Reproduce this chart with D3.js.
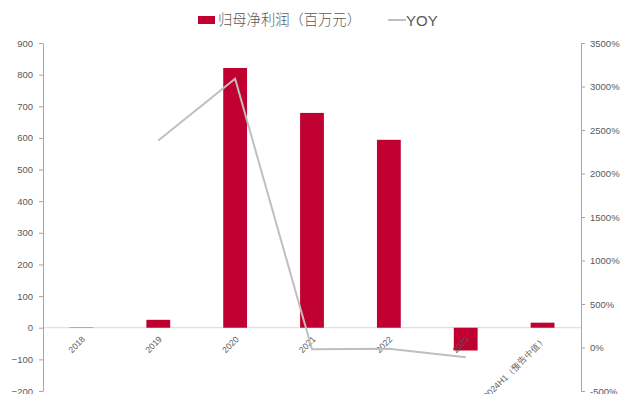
<!DOCTYPE html>
<html><head><meta charset="utf-8">
<script src="https://cdn.jsdelivr.net/npm/d3@7"></script>
<style>body{margin:0;background:#fff}svg{display:block}</style>
</head><body>
<svg id="c" width="621" height="394"></svg>
<script>
const categories = ["2018","2019","2020","2021","2022","2023","2024H1（预告中值）"];
const profit = [1, 25, 821, 679, 594, -72, 16];
const yoy = [null, 2380, 3090, -20, -15, -112, null];
const leftTicks = [-200,-100,0,100,200,300,400,500,600,700,800,900];
const rightTicks = [-500,0,500,1000,1500,2000,2500,3000,3500];

const svg = d3.select("#c");
const L = 43, R = 581, T = 43, B = 391;
const x = d3.scaleBand().domain(categories).range([L, R]).paddingInner(0.69).paddingOuter(0.345);
const y = d3.scaleLinear().domain([-200, 900]).range([B, T]);
const y2 = d3.scaleLinear().domain([-500, 3500]).range([B, T]);
const font = "Liberation Sans, Arial, sans-serif";
const grey = "#595959";

// zero line
svg.append("line").attr("x1", L).attr("x2", R).attr("y1", y(0)).attr("y2", y(0))
  .attr("stroke", "#d9d9d9").attr("stroke-width", 1);

// bars
svg.selectAll("rect.bar").data(profit).join("rect").attr("class","bar")
  .attr("x", (d,i) => x(categories[i]))
  .attr("width", x.bandwidth())
  .attr("y", d => y(Math.max(0,d)))
  .attr("height", d => Math.abs(y(d) - y(0)))
  .attr("fill", "#c00030");

// left axis
const la = svg.append("g").attr("transform", `translate(${L},0)`)
  .call(d3.axisLeft(y).tickValues(leftTicks).tickSize(4).tickSizeOuter(0).tickPadding(6));
// right axis
const ra = svg.append("g").attr("transform", `translate(${R},0)`)
  .call(d3.axisRight(y2).tickValues(rightTicks).tickSize(4).tickSizeOuter(0).tickPadding(5).tickFormat(d => d + "%"));
[la, ra].forEach(g => {
  g.select(".domain").attr("stroke", "#a6a6a6");
  g.selectAll(".tick line").attr("stroke", "#a6a6a6");
  g.selectAll(".tick text").attr("fill", grey).style("font-family", font).style("font-size", "9.5px");
});

// x labels
svg.selectAll("text.xl").data(categories).join("text").attr("class","xl")
  .attr("transform", d => `translate(${x(d) + x.bandwidth()/2 + 2},${y(0) + 10}) rotate(-45)`)
  .attr("text-anchor", "end").attr("dy", "0.35em")
  .attr("fill", grey).style("font-family", font).style("font-size", "8.6px")
  .text(d => d);

// yoy line
const line = d3.line().defined(d => d.v !== null)
  .x(d => x(d.c) + x.bandwidth()/2).y(d => y2(d.v));
svg.append("path").datum(categories.map((c,i) => ({c, v: yoy[i]})))
  .attr("d", line).attr("fill", "none").attr("stroke", "#bfbfbf").attr("stroke-width", 2);

// legend
const lg = svg.append("g");
lg.append("rect").attr("x", 198).attr("y", 16).attr("width", 17).attr("height", 8).attr("fill", "#c00030");
lg.append("text").attr("x", 218).attr("y", 25).attr("fill", grey)
  .style("font-family", "Noto Sans CJK SC, sans-serif").style("font-size", "14.3px").style("font-weight", "300").text("归母净利润（百万元）");
lg.append("line").attr("x1", 388).attr("x2", 406).attr("y1", 20).attr("y2", 20).attr("stroke", "#bfbfbf").attr("stroke-width", 2);
lg.append("text").attr("x", 406).attr("y", 26).attr("fill", grey)
  .style("font-family", font).style("font-size", "15px").text("YOY");
</script>
</body></html>
